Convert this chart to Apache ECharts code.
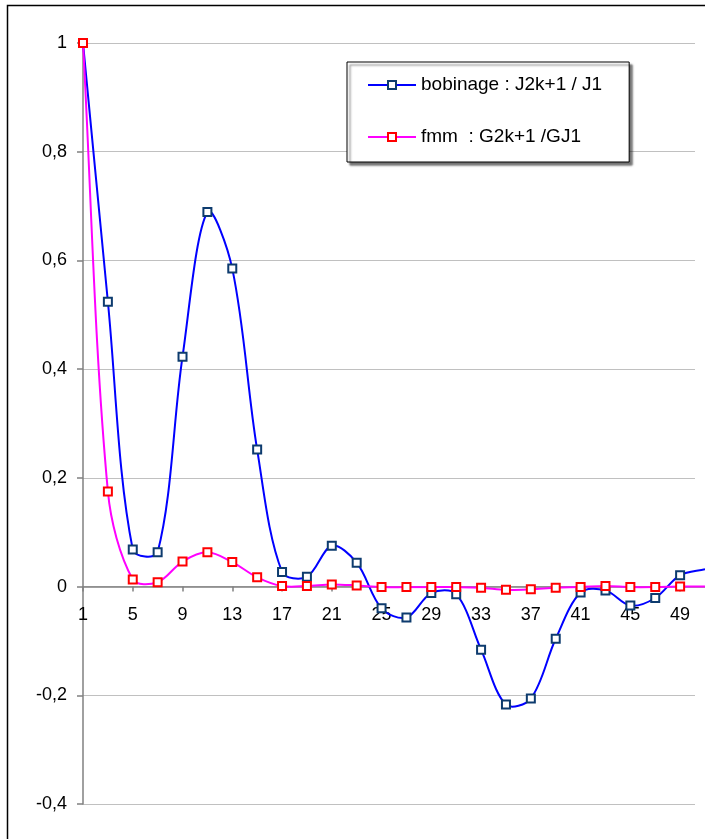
<!DOCTYPE html>
<html>
<head>
<meta charset="utf-8">
<script src="https://cdn.jsdelivr.net/npm/echarts@6/dist/echarts.min.js"></script>
<style>
html,body{margin:0;padding:0;background:#fff;}
#chart{width:705px;height:839px;}
</style>
</head>
<body>
<div id="chart"></div>
<script>
// Harmonic orders (odd) on the x axis
var categories = ['1','3','5','7','9','11','13','15','17','19','21','23','25','27','29','31','33','35','37','39','41','43','45','47','49','51'];
// bobinage : J2k+1 / J1
var bobinage = [1.0, 0.524, 0.068, 0.063, 0.423, 0.689, 0.585, 0.252, 0.027, 0.018, 0.075, 0.044, -0.040, -0.057, -0.012, -0.014, -0.116, -0.217, -0.206, -0.096, -0.011, -0.007, -0.035, -0.021, 0.021, 0.032];
// fmm : G2k+1 / GJ1
var fmm = [1.0, 0.175, 0.013, 0.008, 0.046, 0.063, 0.045, 0.017, 0.001, 0.001, 0.004, 0.002, -0.001, -0.001, -0.001, -0.001, -0.002, -0.006, -0.005, -0.002, -0.001, 0.001, -0.001, -0.001, 0.0, 0.0];
var seriesNames = ['bobinage : J2k+1 / J1', 'fmm  : G2k+1 /GJ1'];
var yTicks = {min: -0.4, max: 1, interval: 0.2};

var FONT = 'Liberation Sans, Arial, sans-serif';
var chart = echarts.init(document.getElementById('chart'), null, {renderer: 'canvas'});
function fmt(v){ return String(+(+v).toFixed(1)).replace('.', ','); }

var TOP = 43, BOTTOM = 35, H = 839 - TOP - BOTTOM;
var zeroH = H * (yTicks.max - 0) / (yTicks.max - yTicks.min);

// the last point lies beyond the visible frame: no marker drawn for it
function withEdge(arr){
  return arr.map(function(v, i){ return i === arr.length - 1 ? {value: v, symbol: 'none'} : v; });
}

// Spreadsheet-style smoothed curve: one cubic segment per pair of points,
// computed in pixel space from the axis scales (api.coord), tangents
// weighted by neighbouring segment lengths.
function smoothCurve(arr, color, z){
  var n = arr.length;
  var s = 1 / 3;
  function dist(a, b){ return Math.sqrt((a[0]-b[0])*(a[0]-b[0]) + (a[1]-b[1])*(a[1]-b[1])) || 1e-6; }
  return {
    type: 'custom', xAxisIndex: 0, yAxisIndex: 0, clip: false, silent: true, z: z,
    data: arr.map(function(v, i){ return [i, v]; }),
    renderItem: function(params, api){
      var i = params.dataIndex;
      if (i >= n - 1) return null;
      function P(k){ k = Math.max(0, Math.min(n - 1, k)); return api.coord([k, arr[k]]); }
      var p0 = P(i - 1), p1 = P(i), p2 = P(i + 1), p3 = P(i + 2);
      var d01 = dist(p0, p1), d12 = dist(p1, p2), d23 = dist(p2, p3);
      if (i === 0) d01 = 0;
      if (i + 2 > n - 1) d23 = 0;
      var f1 = s * d12 / (d01 + d12);
      var f2 = s * d12 / (d12 + d23);
      return {
        type: 'bezierCurve',
        shape: {
          x1: p1[0], y1: p1[1], x2: p2[0], y2: p2[1],
          cpx1: p1[0] + (p2[0] - p0[0]) * f1, cpy1: p1[1] + (p2[1] - p0[1]) * f1,
          cpx2: p2[0] - (p3[0] - p1[0]) * f2, cpy2: p2[1] - (p3[1] - p1[1]) * f2
        },
        style: {fill: null, stroke: color, lineWidth: 2}
      };
    }
  };
}

chart.setOption({
  animation: false,
  backgroundColor: '#fff',
  textStyle: {fontFamily: FONT},
  graphic: [{
    type: 'rect', silent: true, z: -10,
    shape: {x: 7.5, y: 5.5, width: 760, height: 900},
    style: {fill: 'none', stroke: '#000', lineWidth: 1.5}
  }],
  grid: [
    {left: 83, top: TOP, width: 625, height: H},
    {left: 83, top: TOP, width: 612, height: H},
    {left: 83, top: TOP, width: 625, height: zeroH}
  ],
  legend: {
    orient: 'vertical', left: 347, top: 62,
    padding: [13, 27, 15, 20],
    itemGap: 32, itemWidth: 48, itemHeight: 10,
    backgroundColor: '#fff', borderColor: '#000', borderWidth: 1,
    shadowColor: 'rgba(0,0,0,0.55)', shadowBlur: 2, shadowOffsetX: 3, shadowOffsetY: 3,
    textStyle: {fontFamily: FONT, fontSize: 19, color: '#000', lineHeight: 20},
    data: [
      {name: seriesNames[0], lineStyle: {color: '#0000ff', width: 2, opacity: 1}},
      {name: seriesNames[1], lineStyle: {color: '#ff00ff', width: 2, opacity: 1}}
    ]
  },
  xAxis: [{
    type: 'category', gridIndex: 0, data: categories, boundaryGap: false,
    axisLine: {onZero: true, lineStyle: {color: '#808080', width: 1.5}},
    axisTick: {show: false}, axisLabel: {show: false},
    splitLine: {show: false}
  }, {
    type: 'category', gridIndex: 1, data: categories, boundaryGap: false, show: false
  }, {
    type: 'category', gridIndex: 2, data: categories, boundaryGap: false, position: 'bottom',
    axisLine: {show: false, onZero: false},
    axisTick: {show: true, inside: false, length: 5, interval: 1, lineStyle: {color: '#808080', width: 1.5}},
    axisLabel: {interval: 1, margin: 19, fontSize: 18, color: '#000', fontFamily: FONT},
    splitLine: {show: false}
  }],
  yAxis: [{
    type: 'value', gridIndex: 0, min: yTicks.min, max: yTicks.max, interval: yTicks.interval,
    axisLine: {show: true, onZero: false, lineStyle: {color: '#808080', width: 1.5}},
    axisTick: {show: true, inside: false, length: 6, lineStyle: {color: '#808080', width: 1.5}},
    axisLabel: {margin: 16, fontSize: 18, color: '#000', fontFamily: FONT, formatter: fmt},
    splitLine: {show: false}
  }, {
    type: 'value', gridIndex: 1, min: yTicks.min, max: yTicks.max, interval: yTicks.interval,
    axisLine: {show: false}, axisTick: {show: false}, axisLabel: {show: false},
    splitLine: {show: true, lineStyle: {color: '#c0c0c0', width: 1}}, z: -1
  }, {
    type: 'value', gridIndex: 2, min: 0, max: 1, show: false, splitLine: {show: false}
  }],
  series: [
    smoothCurve(bobinage, '#0000ff', 2),
    {
      name: seriesNames[0], type: 'line', xAxisIndex: 0, yAxisIndex: 0,
      data: withEdge(bobinage), clip: false,
      symbol: 'rect', symbolSize: 8, showAllSymbol: true,
      lineStyle: {color: '#0000ff', width: 2, opacity: 0},
      itemStyle: {color: '#ffffff', borderColor: '#0d3b6e', borderWidth: 2},
      z: 3
    },
    smoothCurve(fmm, '#ff00ff', 4),
    {
      name: seriesNames[1], type: 'line', xAxisIndex: 0, yAxisIndex: 0,
      data: withEdge(fmm), clip: false,
      symbol: 'rect', symbolSize: 8, showAllSymbol: true,
      lineStyle: {color: '#ff00ff', width: 2, opacity: 0},
      itemStyle: {color: '#ffffff', borderColor: '#ff0000', borderWidth: 2},
      z: 5
    }
  ]
});
</script>
</body>
</html>
